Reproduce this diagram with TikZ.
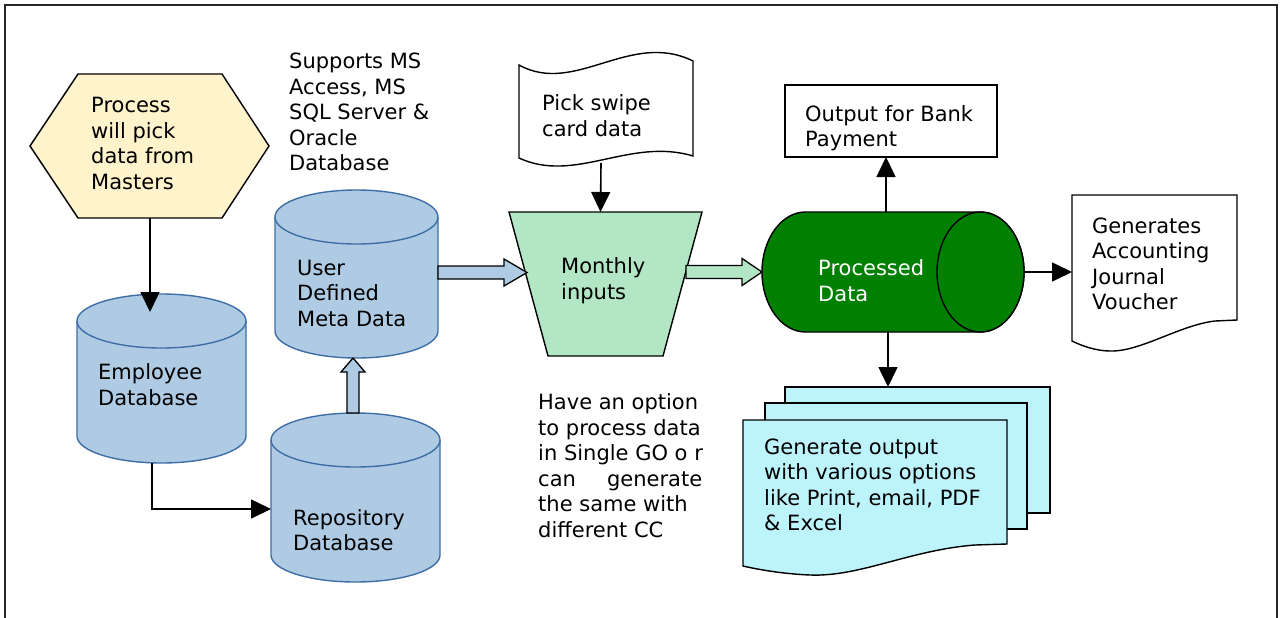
\documentclass[tikz,border=0pt]{standalone}
\usepackage{fontspec}
\setmainfont{DejaVu Sans}
\usetikzlibrary{arrows.meta,calc}
\definecolor{cylfill}{RGB}{175,203,228}
\definecolor{cylline}{RGB}{62,110,165}
\definecolor{hexfill}{RGB}{255,243,204}
\definecolor{trapfill}{RGB}{178,230,196}
\definecolor{procgreen}{RGB}{0,128,0}
\definecolor{docfill}{RGB}{189,243,251}
\newcommand{\vcylinder}[6]{%
 \pgfmathsetmacro{\cxr}{(#3-#2)/2}%
 \pgfmathsetmacro{\cw}{#3-#2}%
 \pgfmathsetmacro{\ch}{#5-#4}%
 \draw[cylsty] (#2,{#4+#6}) -- (#2,{#5-#6}) arc[start angle=180,end angle=360,x radius=\cxr pt,y radius=#6pt] -- (#3,{#4+#6}) arc[start angle=0,end angle=180,x radius=\cxr pt,y radius=#6pt] -- cycle;
 \draw[cylsty,fill=none] (#2,{#4+#6}) arc[start angle=180,end angle=360,x radius=\cxr pt,y radius=#6pt];
 \node[box,minimum width=\cw pt,minimum height=\ch pt] (#1) at ({(#2+#3)/2},{(#4+#5)/2}) {};
}
\begin{document}
\begin{tikzpicture}[x=1pt,y=-1pt,
  box/.style={inner sep=0,outer sep=0},
  txt/.style={anchor=west,align=left,inner sep=0,font=\fontsize{21}{25.5}\selectfont},
  cylsty/.style={fill=cylfill,draw=cylline,line width=1.4pt},
  plain/.style={draw=black,line width=1.4pt,line join=miter},
  arr/.style={draw=black,line width=1.6pt,-{Triangle[length=20pt,width=19pt]}},
  blockarrow/.style={draw=black,line width=1.3pt,line join=miter}]
\useasboundingbox (0,0) rectangle (1282,618);
\fill[white] (0,0) rectangle (1282,618);
% page border
\draw[line width=2pt,black!85] (5,5) rectangle (1277,660);

% hexagon
\draw[plain,fill=hexfill] (30,146) -- (78,74) -- (222,74) -- (269,146) -- (222,218) -- (78,218) -- cycle;
\node[box,minimum width=239pt,minimum height=144pt] (hex) at (149.5,146) {};
\node[txt] (hexT) at (91,143.5) {Process\\will pick\\data from\\Masters};

% supports text
\node[txt] (supT) at (289,112) {Supports MS\\Access, MS\\SQL Server \&\\Oracle\\Database};

% cylinders
\vcylinder{user}{275}{438}{190}{358}{27}
\node[txt] (userT) at (297,293) {User\\Defined\\Meta Data};
\vcylinder{emp}{77}{246}{294}{463}{27}
\node[txt] (empT) at (98,384.5) {Employee\\Database};
\vcylinder{repo}{271}{440}{413}{582}{27}
\node[txt] (repoT) at (293,530) {Repository\\Database};

% connectors left
\draw[arr] ([xshift=0.5pt]hex.south) -- ([shift={(0.5pt,-18pt)}]hex.south |- emp.north);
\draw[arr] ([xshift=-9.5pt]emp.south) |- ([yshift=-11.5pt]repo.west);
\draw[blockarrow,fill=cylfill,shift={(repo.north)}] (-8.5,0) -- (-8.5,-41) -- (-14.5,-41) -- (-2.5,-55) -- (9.5,-41) -- (3.5,-41) -- (3.5,0) -- cycle;

% swipe card
\draw[plain,fill=white] (519,65) .. controls (575,96) and (630,30) .. (693,61) -- (693,156) .. controls (630,137) and (575,184) .. (519,158) -- cycle;
\node[box,minimum width=174pt,minimum height=115pt] (swipe) at (606,110.5) {};
\node[txt] (swipeT) at (542,115.5) {Pick swipe\\card data};

% trapezoid
\draw[plain,fill=trapfill] (509,212) -- (702,212) -- (663,356) -- (548,356) -- cycle;
\node[box,minimum width=193pt,minimum height=144pt] (trap) at (605.5,284) {};
\node[txt] (trapT) at (561,280.5) {Monthly\\inputs};

\draw[arr] ([shift={(-5pt,5pt)}]swipe.south) -- ([xshift=-5pt]trap.north);
\draw[blockarrow,fill=cylfill,shift={(user.east)}] (0,-8) -- (66,-8) -- (66,-15) -- (89,-1.5) -- (66,12) -- (66,5) -- (0,5) -- cycle;

% processed data cylinder
\draw[plain,fill=procgreen] (805.5,212) -- (980.5,212) arc[start angle=90,end angle=-90,x radius=43.5pt,y radius=60pt] -- (805.5,332) arc[start angle=270,end angle=90,x radius=43.5pt,y radius=60pt] -- cycle;
\draw[plain,fill=procgreen] (980.5,272) ellipse[x radius=43.5pt,y radius=60pt];
\node[box,minimum width=262pt,minimum height=120pt] (proc) at (893,272) {};
\node[txt,text=white] (procT) at (818,280.5) {Processed\\Data};
\draw[blockarrow,fill=trapfill,shift={(proc.west)}] (-76,-6.5) -- (-20,-6.5) -- (-20,-13.5) -- (0,0) -- (-20,13.5) -- (-20,6.5) -- (-76,6.5) -- cycle;

% bank
\node[box,draw=black,line width=1.4pt,minimum width=212pt,minimum height=72pt] (bank) at (891,121) {};
\node[txt] (bankT) at (805,128) {Output for Bank\\Payment};
\draw[arr] ([xshift=-7pt]proc.north) -- ([xshift=-7pt]proc.north |- bank.south);

% journal voucher
\draw[plain,fill=white] (1072,195) -- (1237,195) -- (1237,320) -- (1215,321) .. controls (1180,325) and (1140,352) .. (1110,351) .. controls (1095,351) and (1080,345) .. (1072,341) -- cycle;
\node[box,minimum width=165pt,minimum height=146pt] (jour) at (1154.5,268) {};
\node[txt] (jourT) at (1092,264) {Generates\\Accounting\\Journal\\Voucher};
\draw[arr] (proc.east) -- (proc.east -| jour.west);

% multi document
\node[box,draw=black,line width=1.4pt,fill=docfill,minimum width=265pt,minimum height=126pt] (page3) at (917.5,450) {};
\node[box,draw=black,line width=1.4pt,fill=docfill,minimum width=262pt,minimum height=126pt] (page2) at (896,466) {};
\draw[plain,fill=docfill] (743,420) -- (1007,420) -- (1007,544) -- (975,545) .. controls (910,550) and (860,577) .. (810,575) .. controls (785,574) and (760,570) .. (743,566) -- cycle;
\node[box,minimum width=264pt,minimum height=155pt] (page1) at (875,497.5) {};
\node[txt] (page1T) at (764,485) {Generate output\\with various options\\like Print, email, PDF\\\& Excel};
\draw[arr] ([xshift=-5pt]proc.south) -- ([xshift=-5pt]proc.south |- page3.north);

% option text
\node[txt] (optT) at (538,465.5) {Have an option\\to process data\\in Single GO o r\\\hbox to 164pt{can\hfill generate}\\the same with\\different CC};
\end{tikzpicture}
\end{document}
